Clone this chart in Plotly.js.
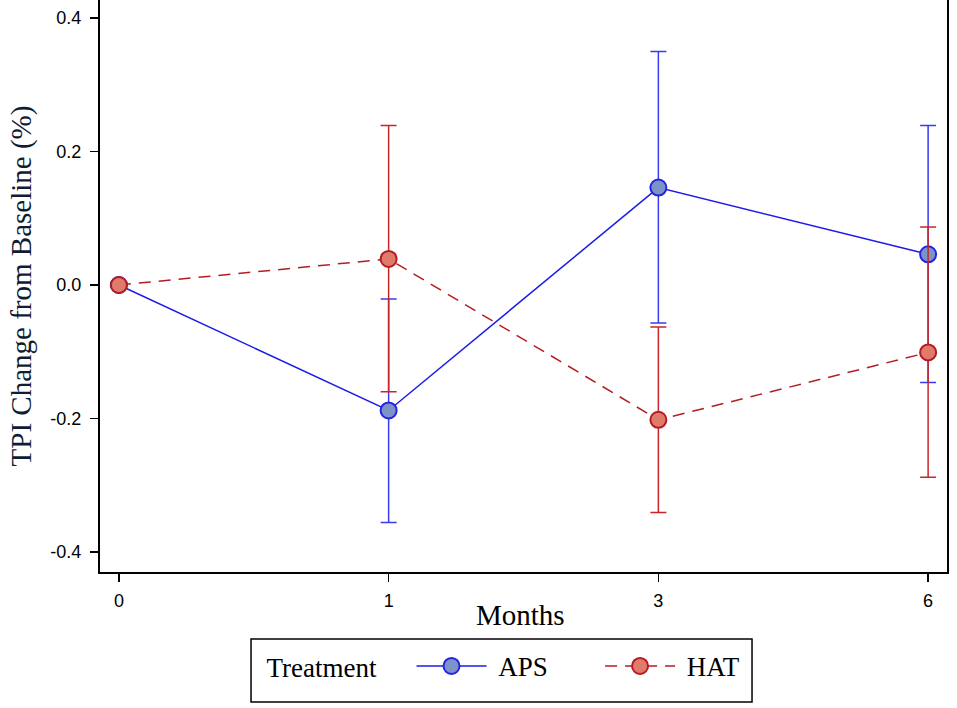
<!DOCTYPE html>
<html>
<head>
<meta charset="utf-8">
<script src="https://cdn.plot.ly/plotly-3.0.1.min.js"></script>
<style>
  html, body { margin: 0; padding: 0; background: #fff; }
  #plot { width: 957px; height: 708px; }
</style>
</head>
<body>
<div id="plot"></div>
<script>
// values
let months = ['0', '1', '3', '6'];

let apsMean  = [0, -0.188, 0.146, 0.046];
let apsUpper = [null, -0.021, 0.350, 0.239];
let apsLower = [null, -0.356, -0.057, -0.146];

let hatMean  = [0, 0.039, -0.202, -0.101];
let hatUpper = [null, 0.239, -0.063, 0.087];
let hatLower = [null, -0.160, -0.341, -0.288];

let yTickVals = [-0.4, -0.2, 0, 0.2, 0.4];
let yTickText = ['-0.4', '-0.2', '0.0', '0.2', '0.4'];

// error bar lengths from the interval bounds
function plusErr(mean, upper) {
  return mean.map((m, i) => upper[i] === null ? null : upper[i] - m);
}
function minusErr(mean, lower) {
  return mean.map((m, i) => lower[i] === null ? null : m - lower[i]);
}

let pad = n => '&nbsp;'.repeat(n);

let aps = {
  x: months,
  y: apsMean,
  name: pad(1) + 'APS' + pad(7),
  type: 'scatter',
  mode: 'lines+markers',
  line: {color: '#1c1ce8', width: 1.5},
  marker: {size: 16, color: '#7c93c8', line: {color: '#2323e0', width: 2}},
  error_y: {
    type: 'data',
    symmetric: false,
    array: plusErr(apsMean, apsUpper),
    arrayminus: minusErr(apsMean, apsLower),
    color: '#3a3af0',
    thickness: 1.5,
    width: 8
  }
};

let hat = {
  x: months,
  y: hatMean,
  name: pad(1) + 'HAT',
  type: 'scatter',
  mode: 'lines+markers',
  line: {color: '#b41e22', width: 1.5, dash: '12px,8px'},
  marker: {size: 16, color: '#e07b6c', line: {color: '#b31c22', width: 2}},
  error_y: {
    type: 'data',
    symmetric: false,
    array: plusErr(hatMean, hatUpper),
    arrayminus: minusErr(hatMean, hatLower),
    color: '#c8262b',
    thickness: 1.5,
    width: 8
  }
};

let serif = 'Liberation Serif, Times New Roman, serif';
let tickFont = {family: 'Liberation Sans, Arial, sans-serif', size: 18, color: '#000'};

let layout = {
  width: 957,
  height: 708,
  margin: {l: 100, r: 10, t: 0, b: 136},
  paper_bgcolor: '#fff',
  plot_bgcolor: '#fff',
  showlegend: true,
  xaxis: {
    type: 'category',
    range: [-0.07, 3.07],
    showgrid: false,
    zeroline: false,
    showline: true,
    linecolor: '#000',
    linewidth: 2,
    ticks: 'outside',
    ticklen: 8,
    tickcolor: '#000',
    tickwidth: 1.5,
    tickfont: tickFont,
    ticklabelstandoff: 3
  },
  yaxis: {
    range: [-0.43, 0.427],
    tickvals: yTickVals,
    ticktext: yTickText,
    showgrid: false,
    zeroline: false,
    showline: true,
    mirror: true,
    linecolor: '#000',
    linewidth: 2,
    ticks: 'outside',
    ticklen: 8,
    tickcolor: '#000',
    tickwidth: 1.5,
    tickfont: tickFont,
    ticklabelstandoff: 5,
    title: {text: 'TPI Change from Baseline (%)', font: {family: serif, size: 29, color: '#101c33'}, standoff: 10}
  },
  // x title placed a bit closer to the tick labels than the axis title allows
  annotations: [{
    text: 'Months', xref: 'paper', yref: 'paper',
    x: 0.497, y: -0.075, xanchor: 'center', yanchor: 'middle',
    showarrow: false, font: {family: serif, size: 29, color: '#000'}
  }],
  legend: {
    orientation: 'h',
    x: 0.1783,
    xanchor: 'left',
    y: -0.165,
    yanchor: 'middle',
    borderwidth: 0,
    bgcolor: 'rgba(0,0,0,0)',
    itemwidth: 70,
    font: {family: serif, size: 27, color: '#000'},
    title: {text: pad(2) + 'Treatment' + pad(4), side: 'left', font: {family: serif, size: 27, color: '#000'}}
  },
  // legend frame
  shapes: [{
    type: 'rect', xref: 'paper', yref: 'paper',
    x0: 0.1783, x1: 0.7698, y0: -0.2273, y1: -0.1171,
    line: {color: '#000', width: 1.5}, fillcolor: 'rgba(0,0,0,0)'
  }]
};

Plotly.newPlot('plot', [aps, hat], layout, {displayModeBar: false, staticPlot: true});
</script>
</body>
</html>
